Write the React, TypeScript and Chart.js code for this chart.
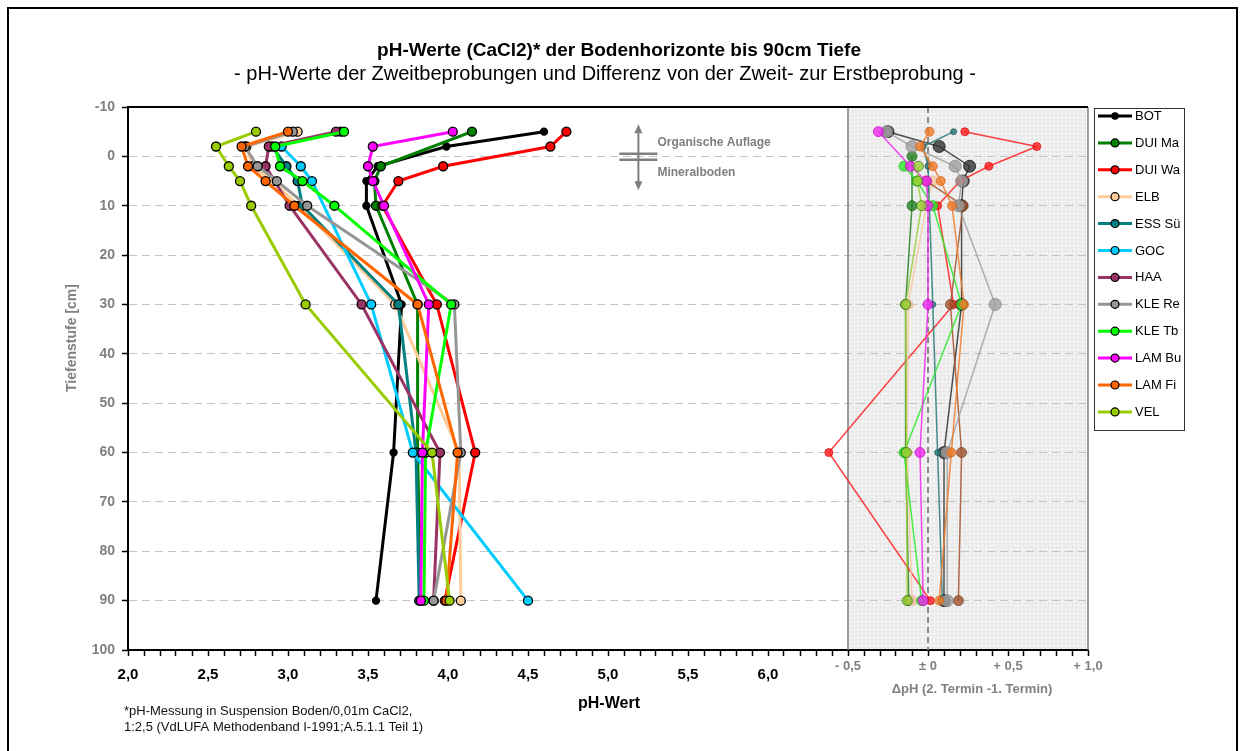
import React, { useEffect, useRef } from 'react';
import { Chart, registerables } from 'chart.js';

Chart.register(...registerables);

const FONT = "'Liberation Sans', Arial, Helvetica, sans-serif";

// ---------- texts ----------
const TITLE = 'pH-Werte (CaCl2)* der Bodenhorizonte bis 90cm Tiefe';
const SUBTITLE = '- pH-Werte der Zweitbeprobungen und Differenz von der Zweit- zur Erstbeprobung -';
const X_TITLE = 'pH-Wert';
const DELTA_TITLE = '\u0394pH (2. Termin -1. Termin)';
const Y_TITLE = 'Tiefenstufe [cm]';
const FOOTNOTE = ['*pH-Messung in Suspension Boden/0,01m CaCl2,', '1:2,5 (VdLUFA Methodenband I-1991;A.5.1.1 Teil 1)'];
const ANNOT_UP = 'Organische Auflage';
const ANNOT_DOWN = 'Mineralboden';

// ---------- categories ----------
const SITES = ['BOT', 'DUI Ma', 'DUI Wa', 'ELB', 'ESS S\u00fc', 'GOC', 'HAA', 'KLE Re', 'KLE Tb', 'LAM Bu', 'LAM Fi', 'VEL'];
const COLORS = ['#000000', '#008000', '#ff0000', '#ffcc99', '#008080', '#00ccff', '#993366', '#969696', '#00ff00', '#ff00ff', '#ff6600', '#99cc00'];

// depth levels [cm] of the second sampling (negative = organic layer)
const DEPTHS = [-5, -2, 2, 5, 10, 30, 60, 90];

// pH values (second sampling), aligned with DEPTHS, null = not sampled
const PH_BOT = [4.60, 3.99, 3.56, 3.49, 3.49, 3.71, 3.66, 3.55];
const PH_DUI_MA = [4.15, null, 3.58, 3.54, 3.55, 3.81, 3.81, 3.83];
const PH_DUI_WA = [4.74, 4.64, 3.97, 3.69, 3.59, 3.93, 4.17, 3.98];
const PH_ELB = [3.06, 2.74, 2.78, 2.90, 3.07, 3.67, 4.07, 4.08];
const PH_ESS_SU = [3.33, 2.90, 2.99, 3.06, 3.09, 3.69, 3.80, 3.82];
const PH_GOC = [null, 2.96, 3.08, 3.15, null, 3.52, 3.78, 4.50];
const PH_HAA = [3.30, 2.88, 2.86, null, 3.01, 3.46, 3.95, 3.91];
const PH_KLE_RE = [3.03, 2.73, 2.81, 2.93, 3.12, 4.04, 4.08, 3.91];
const PH_KLE_TB = [3.35, 2.92, 2.95, 3.09, 3.29, 4.02, 3.86, 3.85];
const PH_LAM_BU = [4.03, 3.53, 3.50, 3.53, 3.60, 3.88, 3.84, 3.83];
const PH_LAM_FI = [3.00, 2.71, 2.75, 2.86, 3.04, 3.81, 4.06, 3.99];
const PH_VEL = [2.80, 2.55, 2.63, 2.70, 2.77, 3.11, 3.90, 4.01];

const PH_SERIES = [PH_BOT, PH_DUI_MA, PH_DUI_WA, PH_ELB, PH_ESS_SU, PH_GOC, PH_HAA, PH_KLE_RE, PH_KLE_TB, PH_LAM_BU, PH_LAM_FI, PH_VEL];

// difference 2nd - 1st sampling, aligned with DIFF_DEPTHS
const DIFF_DEPTHS = [-5, -2, 0, 2, 5, 10, 30, 60, 90];
const DIFF_BOT = [-0.25, 0.07, null, 0.26, 0.22, 0.21, 0.21, 0.10, 0.10];
const DIFF_DUI_MA = [null, null, -0.10, null, null, -0.10, -0.14, -0.14, -0.12];
const DIFF_DUI_WA = [0.23, 0.68, null, 0.38, 0.20, 0.06, 0.16, -0.62, 0.015];
const DIFF_ELB = [null, null, null, null, 0.03, -0.01, -0.125, -0.13, -0.10];
const DIFF_ESS_SU = [0.16, -0.03, null, 0.0, null, null, 0.03, 0.06, 0.09];
const DIFF_HAA = [null, null, null, null, -0.01, 0.22, 0.14, 0.21, 0.19];
const DIFF_KLE_RE = [-0.26, -0.10, null, 0.17, 0.21, 0.19, 0.42, 0.12, 0.12];
const DIFF_KLE_TB = [null, null, null, -0.15, -0.07, 0.03, 0.21, -0.15, -0.04];
const DIFF_LAM_BU = [-0.31, null, null, -0.11, -0.01, 0.0, 0.0, -0.05, -0.03];
const DIFF_LAM_FI = [0.01, -0.05, null, 0.03, 0.08, 0.15, 0.225, 0.146, 0.07];
const DIFF_VEL = [null, null, null, -0.06, -0.065, -0.04, -0.14, -0.135, -0.13];

const DIFF_SITES = ['BOT', 'DUI Ma', 'DUI Wa', 'ELB', 'ESS S\u00fc', 'HAA', 'KLE Re', 'KLE Tb', 'LAM Bu', 'LAM Fi', 'VEL'];
const DIFF_SERIES = [DIFF_BOT, DIFF_DUI_MA, DIFF_DUI_WA, DIFF_ELB, DIFF_ESS_SU, DIFF_HAA, DIFF_KLE_RE, DIFF_KLE_TB, DIFF_LAM_BU, DIFF_LAM_FI, DIFF_VEL];
const DIFF_COLORS = ['51,51,51', '34,130,34', '255,30,30', '245,200,160', '40,120,120', '160,82,45', '160,160,160', '40,235,40', '238,40,238', '240,122,40', '154,205,50'];
const DIFF_BORDERS = ['0,0,0', '20,90,20', '220,0,0', '230,180,140', '20,80,80', '120,60,30', '130,130,130', '20,180,20', '200,0,200', '210,100,30', '50,110,20'];
const DIFF_RADII = [6, 5, 4, 5, 3, 5, 6, 5, 5, 4.5, 5];

// ---------- axes ----------
const X_MIN = 2;
const X_MAX = 8;
const DIFF_ZERO = 7; // x value where delta pH = 0 is plotted
const DIFF_PANEL_START = 6.5;
const Y_MIN = -10;
const Y_MAX = 100;
const X_MAJOR_VALUES = [2, 2.5, 3, 3.5, 4, 4.5, 5, 5.5, 6, 6.5, 7, 7.5, 8];
const X_MAJOR_LABELS = ['2,0', '2,5', '3,0', '3,5', '4,0', '4,5', '5,0', '5,5', '6,0', '- 0,5', '\u00b1 0', '+ 0,5', '+ 1,0'];

const isDeltaTick = (v: number) => v > 6.25;

function buildDatasets() {
  const main = SITES.map((name, i) => {
    const vals = PH_SERIES[i];
    const pts: { x: number; y: number }[] = [];
    DEPTHS.forEach((d, j) => {
      const v = vals[j];
      if (v !== null && v !== undefined) pts.push({ x: v, y: d });
    });
    return {
      label: name,
      data: pts,
      borderColor: COLORS[i],
      backgroundColor: COLORS[i],
      borderWidth: 3,
      pointRadius: i === 0 ? 3.5 : 4.5,
      pointBackgroundColor: COLORS[i],
      pointBorderColor: '#000000',
      pointBorderWidth: 1.3,
      tension: 0,
      fill: false,
      order: -i,
    };
  });
  const diff = DIFF_SITES.map((name, i) => {
    const vals = DIFF_SERIES[i];
    const pts: { x: number; y: number }[] = [];
    DIFF_DEPTHS.forEach((d, j) => {
      const v = vals[j];
      if (v !== null && v !== undefined) pts.push({ x: DIFF_ZERO + v, y: d });
    });
    return {
      label: 'diff ' + name,
      data: pts,
      borderColor: `rgba(${DIFF_COLORS[i]},0.85)`,
      backgroundColor: `rgba(${DIFF_COLORS[i]},0.8)`,
      borderWidth: 1.5,
      pointRadius: DIFF_RADII[i],
      pointBackgroundColor: `rgba(${DIFF_COLORS[i]},0.8)`,
      pointBorderColor: `rgba(${DIFF_BORDERS[i]},0.7)`,
      pointBorderWidth: 1,
      tension: 0,
      fill: false,
      order: 20 - i,
    };
  });
  return [...main, ...diff];
}

const decorPlugin = {
  id: 'decor',
  beforeDraw(chart: any) {
    const { ctx } = chart;
    const xs = chart.scales.x;
    const ys = chart.scales.y;
    const l = xs.getPixelForValue(DIFF_PANEL_START);
    const r = xs.getPixelForValue(X_MAX);
    const t = ys.getPixelForValue(Y_MIN);
    const b = ys.getPixelForValue(Y_MAX);
    ctx.save();
    ctx.fillStyle = '#e9e9e9';
    ctx.fillRect(l, t, r - l, b - t);
    ctx.strokeStyle = '#f4f4f4';
    ctx.lineWidth = 1;
    ctx.beginPath();
    for (let x = l + 2; x < r; x += 4) {
      ctx.moveTo(Math.round(x) + 0.5, t);
      ctx.lineTo(Math.round(x) + 0.5, b);
    }
    for (let y = t + 2; y < b; y += 4) {
      ctx.moveTo(l, Math.round(y) + 0.5);
      ctx.lineTo(r, Math.round(y) + 0.5);
    }
    ctx.stroke();
    ctx.restore();
  },
  beforeDatasetsDraw(chart: any) {
    const { ctx } = chart;
    const xs = chart.scales.x;
    const ys = chart.scales.y;
    const l = xs.getPixelForValue(DIFF_PANEL_START);
    const r = xs.getPixelForValue(X_MAX);
    const z = xs.getPixelForValue(DIFF_ZERO);
    const t = ys.getPixelForValue(Y_MIN);
    const b = ys.getPixelForValue(Y_MAX);
    ctx.save();
    ctx.strokeStyle = '#808080';
    ctx.lineWidth = 1.5;
    ctx.beginPath();
    ctx.moveTo(l, t);
    ctx.lineTo(l, b);
    ctx.moveTo(r, t);
    ctx.lineTo(r, b);
    ctx.stroke();
    ctx.setLineDash([6, 4]);
    ctx.lineWidth = 2;
    ctx.strokeStyle = '#8a8a8a';
    ctx.beginPath();
    ctx.moveTo(z, t);
    ctx.lineTo(z, b);
    ctx.stroke();
    ctx.restore();

    // annotation organic layer / mineral soil
    const ax = xs.getPixelForValue(5.19);
    const a0 = ys.getPixelForValue(0);
    ctx.save();
    ctx.strokeStyle = '#7f7f7f';
    ctx.fillStyle = '#7f7f7f';
    ctx.lineWidth = 2;
    ctx.beginPath();
    ctx.moveTo(ax, a0 - 24);
    ctx.lineTo(ax, a0 + 28);
    ctx.stroke();
    ctx.beginPath();
    ctx.moveTo(ax, a0 - 32);
    ctx.lineTo(ax - 4, a0 - 23);
    ctx.lineTo(ax + 4, a0 - 23);
    ctx.closePath();
    ctx.fill();
    ctx.beginPath();
    ctx.moveTo(ax, a0 + 34);
    ctx.lineTo(ax - 4, a0 + 25);
    ctx.lineTo(ax + 4, a0 + 25);
    ctx.closePath();
    ctx.fill();
    ctx.lineWidth = 2.5;
    ctx.beginPath();
    ctx.moveTo(ax - 19, a0 - 2.5);
    ctx.lineTo(ax + 19, a0 - 2.5);
    ctx.moveTo(ax - 19, a0 + 3.5);
    ctx.lineTo(ax + 19, a0 + 3.5);
    ctx.stroke();
    ctx.font = `bold 12px ${FONT}`;
    ctx.textAlign = 'left';
    ctx.textBaseline = 'middle';
    ctx.fillText(ANNOT_UP, ax + 19, a0 - 14);
    ctx.fillText(ANNOT_DOWN, ax + 19, a0 + 16);
    ctx.restore();
  },
  afterDraw(chart: any) {
    const { ctx } = chart;
    const xs = chart.scales.x;
    const ys = chart.scales.y;
    const left = xs.left;
    const right = xs.right;
    const t = ys.getPixelForValue(Y_MIN);
    ctx.save();
    // top border of plot
    ctx.strokeStyle = '#000';
    ctx.lineWidth = 2;
    ctx.beginPath();
    ctx.moveTo(left - 1, t);
    ctx.lineTo(right, t);
    ctx.stroke();
    // outer frame
    ctx.lineWidth = 2;
    ctx.strokeRect(8, 8, 1229, 800);

    // titles
    const cx = (left + right) / 2;
    ctx.fillStyle = '#000';
    ctx.textAlign = 'center';
    ctx.textBaseline = 'alphabetic';
    ctx.font = `bold 19px ${FONT}`;
    ctx.fillText(TITLE, cx + 11, 56);
    ctx.font = `20px ${FONT}`;
    ctx.fillText(SUBTITLE, cx - 3, 80);

    // axis titles
    ctx.textBaseline = 'middle';
    ctx.font = `bold 16px ${FONT}`;
    ctx.fillText(X_TITLE, cx + 1, 704);
    ctx.fillStyle = '#808080';
    ctx.font = `bold 13px ${FONT}`;
    const dl = xs.getPixelForValue(DIFF_PANEL_START);
    const dr = xs.getPixelForValue(X_MAX);
    ctx.fillText(DELTA_TITLE, (dl + dr) / 2 + 4, 689);
    ctx.save();
    ctx.translate(72, 338);
    ctx.rotate(-Math.PI / 2);
    ctx.font = `bold 14px ${FONT}`;
    ctx.fillText(Y_TITLE, 0, 0);
    ctx.restore();

    // footnote
    ctx.fillStyle = '#111';
    ctx.textAlign = 'left';
    ctx.font = `13px ${FONT}`;
    ctx.fillText(FOOTNOTE[0], 124, 711);
    ctx.fillText(FOOTNOTE[1], 124, 727);

    // legend
    const lx = 1094.5;
    const ly = 108.5;
    const lw = 90;
    const lh = 322;
    ctx.strokeStyle = '#333';
    ctx.lineWidth = 1;
    ctx.strokeRect(lx, ly, lw, lh);
    const rowH = 26.9;
    SITES.forEach((name, i) => {
      const y = 116 + i * rowH;
      const ds = chart.data.datasets[i];
      ctx.strokeStyle = ds.borderColor;
      ctx.lineWidth = 3;
      ctx.beginPath();
      ctx.moveTo(1098, y);
      ctx.lineTo(1132, y);
      ctx.stroke();
      ctx.beginPath();
      ctx.arc(1115, y, i === 0 ? 3.2 : 4, 0, Math.PI * 2);
      ctx.fillStyle = ds.pointBackgroundColor;
      ctx.fill();
      ctx.lineWidth = 1.2;
      ctx.strokeStyle = '#000';
      ctx.stroke();
      ctx.fillStyle = '#000';
      ctx.font = `13px ${FONT}`;
      ctx.textAlign = 'left';
      ctx.textBaseline = 'middle';
      ctx.fillText(name, 1135, y + 0.5);
    });
    ctx.restore();
  },
};

export default function App() {
  const ref = useRef<HTMLCanvasElement>(null);
  useEffect(() => {
    document.body.style.margin = '0';
    const canvas = ref.current;
    if (!canvas) return;
    const chart = new Chart(canvas, {
      type: 'line',
      data: { datasets: buildDatasets() as any },
      options: {
        animation: false,
        responsive: false,
        maintainAspectRatio: false,
        events: [],
        layout: { padding: { left: 58, right: 157, top: 107, bottom: 31 } },
        plugins: {
          legend: { display: false },
          title: { display: false },
          tooltip: { enabled: false },
        },
        scales: {
          x: {
            type: 'linear',
            min: X_MIN,
            max: X_MAX,
            afterFit: (scale: any) => {
              scale.height = 70;
            },
            ticks: {
              stepSize: 0.1,
              autoSkip: false,
              maxRotation: 0,
              minRotation: 0,
              padding: 2,
              color: (c: any) => (c.tick && isDeltaTick(c.tick.value) ? '#808080' : '#000000'),
              font: (c: any) =>
                c.tick && isDeltaTick(c.tick.value)
                  ? { family: FONT, size: 13, weight: 'bold', lineHeight: '16px' }
                  : { family: FONT, size: 15, weight: 'bold', lineHeight: '33px' },
              callback: (value: any) => {
                const v = Number(value);
                const idx = X_MAJOR_VALUES.findIndex((m) => Math.abs(m - v) < 1e-6);
                return idx >= 0 ? X_MAJOR_LABELS[idx] : '';
              },
            },
            grid: {
              drawOnChartArea: false,
              drawTicks: true,
              tickLength: 6,
              tickColor: '#000',
              tickWidth: 1.5,
            },
            border: { display: true, color: '#000', width: 2 },
          },
          y: {
            type: 'linear',
            reverse: true,
            min: Y_MIN,
            max: Y_MAX,
            afterFit: (scale: any) => {
              scale.width = 70;
            },
            ticks: {
              stepSize: 10,
              padding: 7,
              color: '#808080',
              font: { family: FONT, size: 14, weight: 'bold' },
            },
            grid: {
              drawOnChartArea: true,
              drawTicks: true,
              tickLength: 6,
              tickColor: '#000',
              tickWidth: 1.5,
              tickBorderDash: [],
              lineWidth: 1,
              color: (c: any) =>
                c.tick && (c.tick.value === Y_MIN || c.tick.value === Y_MAX) ? 'rgba(0,0,0,0)' : '#c4c4c4',
            },
            border: { display: true, color: '#000', width: 2, dash: [8, 5] },
          },
        },
      },
      plugins: [decorPlugin],
    } as any);
    return () => chart.destroy();
  }, []);
  return (
    <div style={{ width: 1245, height: 751, position: 'relative', overflow: 'hidden', background: '#fff' }}>
      <canvas ref={ref} width={1245} height={751} style={{ display: 'block', width: 1245, height: 751 }} />
    </div>
  );
}
